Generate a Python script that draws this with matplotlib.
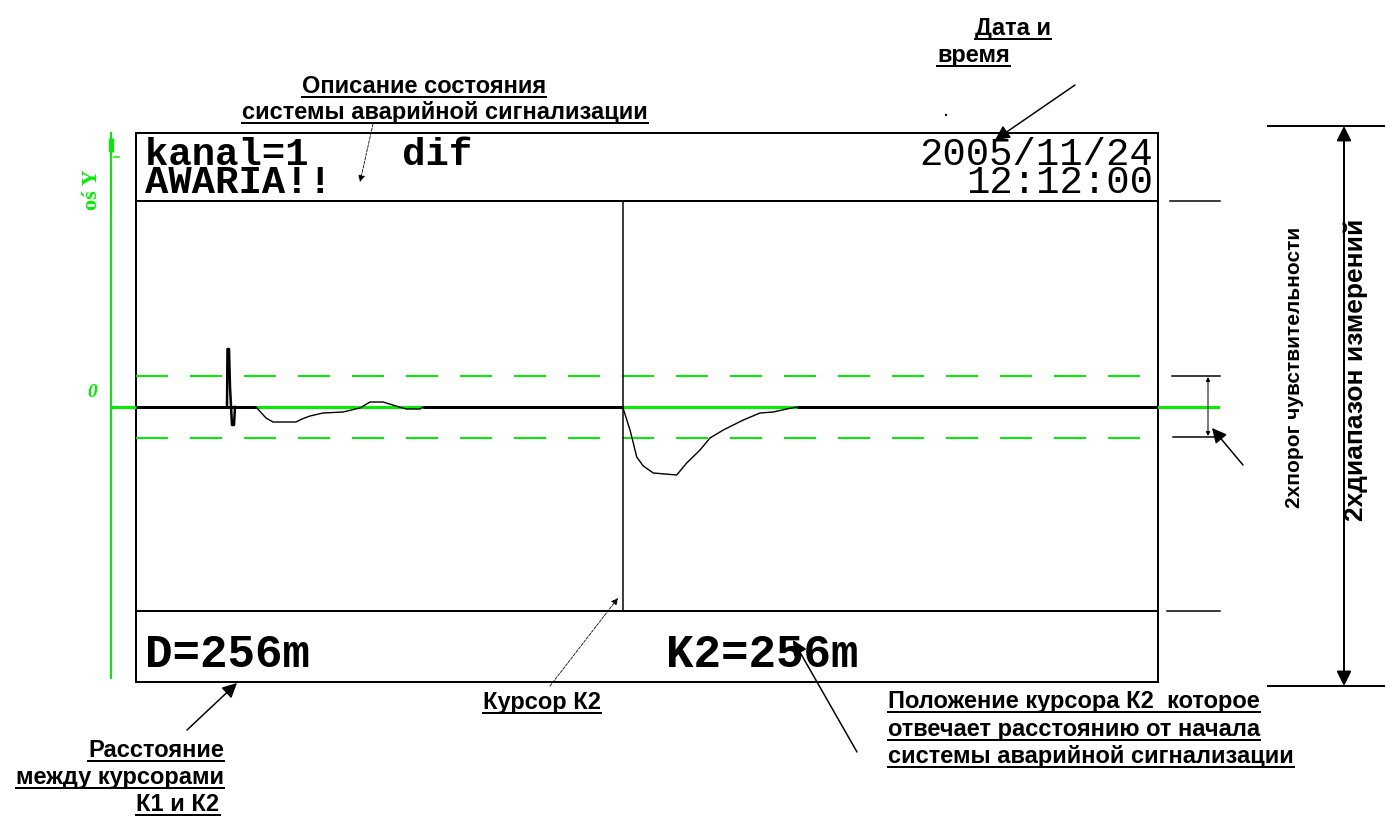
import numpy as np
import matplotlib
matplotlib.use('Agg')
import matplotlib.pyplot as plt
from matplotlib.lines import Line2D
from matplotlib.patches import Rectangle

# ---------------- data (screen units of the reflectometer trace) ----------------
spike_x = [91, 91.5, 93, 94, 96, 98, 99]
spike_y = [0, 58, 58, 20, -18, -18, 0]
dip1_x = [120, 130, 137, 160, 166, 174, 187, 207, 224, 234, 247, 260, 270, 284, 287]
dip1_y = [0, -11, -15, -15, -12, -9, -6, -5, -1, 5, 5, 1, -2, -2, 0]
dip2_x = [486.7, 494, 497.3, 500.7, 507.3, 517.3, 540.7, 550.7, 564, 574, 587.3,
          607.3, 624, 637.3, 650.7, 660.7]
dip2_y = [0, -23, -36, -50, -59, -66, -68, -56, -43, -31, -23, -13, -6, -5, -2, 0]
threshold = 31
cursor_k2 = 486.7
trace_length = 1022
amp_range = (-204, 206)

header_left = ["kanal=1    dif", "AWARIA!!"]
header_right = ["2005/11/24", "12:12:00"]
dist_text = "D=256m"
k2_text = "K2=256m"

W, H = 1385, 823
GREEN = '#00ee00'
fig = plt.figure(figsize=(W / 100, H / 100), dpi=100)
fig.patch.set_facecolor('white')

# overlay axes in pixel coordinates (for frame / annotations)
ov = fig.add_axes([0, 0, 1, 1])
ov.set_xlim(0, W)
ov.set_ylim(H, 0)
ov.axis('off')

px = 0.72  # 1 px in points

# screen frame
ov.add_patch(Rectangle((136, 133), 1158 - 136, 682 - 133, fill=False, ec='black', lw=2 * px))
ov.plot([136, 1158], [201, 201], color='black', lw=2 * px)
ov.plot([136, 1158], [611, 611], color='black', lw=2 * px)

# green Y axis
ov.plot([111, 111], [133, 678], color=GREEN, lw=2 * px)
ov.plot([111, 111], [138, 152], color=GREEN, lw=5 * px, solid_capstyle='butt')
ov.plot([114, 119], [157, 157], color=GREEN, lw=1.5 * px)
ov.text(92, 190, "oś Y", rotation=90, color=GREEN, fontsize=16, fontweight='bold',
        family='Liberation Serif', ha='center', va='center')
ov.text(92, 392, "0", color=GREEN, fontsize=14, fontweight='bold', style='italic',
        family='Liberation Serif', ha='center', va='center')
# green baseline extends beyond the screen
ov.plot([111, 1218], [407, 407], color=GREEN, lw=3 * px, zorder=1)

# trace axes
tr = fig.add_axes([136 / W, (H - 611) / H, (1158 - 136) / W, (611 - 201) / H])
tr.patch.set_alpha(0)
tr.set_xlim(0, trace_length)
tr.set_ylim(*amp_range)
tr.axis('off')
for yv in (threshold, -threshold):
    tr.plot([0, trace_length], [yv, yv], color=GREEN, lw=2 * px,
            dashes=(16, 11), zorder=2)
tr.axvline(cursor_k2, color='black', lw=1.5 * px, zorder=3)
# thick flat baseline where the trace sits at zero
flat = [(0, dip1_x[0]), (dip1_x[-1], dip2_x[0]), (dip2_x[-1], trace_length)]
for a, b in flat:
    tr.plot([a, b], [0, 0], color='black', lw=3 * px, zorder=4, solid_capstyle='butt')
tr.plot(spike_x, spike_y, color='black', lw=2.5 * px, zorder=5)
tr.plot(dip1_x, dip1_y, color='black', lw=1.4 * px, zorder=5)
tr.plot(dip2_x, dip2_y, color='black', lw=1.4 * px, zorder=5)

# screen texts (va='baseline' on multi-line text aligns the last line)
mono = 'Liberation Mono'
ov.text(145, 193, "\n".join(header_left), family=mono, fontsize=28, fontweight='bold',
        ha='left', va='baseline', linespacing=0.72)
ov.text(1153, 193, "\n".join(header_right), family=mono, fontsize=28,
        ha='right', va='baseline', multialignment='right', linespacing=0.72)
ov.text(145, 667, dist_text, family=mono, fontsize=33, fontweight='bold', ha='left', va='baseline')
ov.text(666, 667, k2_text, family=mono, fontsize=33, fontweight='bold', ha='left', va='baseline')
ov.text(946, 116, ".", family=mono, fontsize=12, ha='center', va='baseline')

# right-hand dimension marks
for y0, x0 in ((201, 1170), (376, 1172), (437, 1173), (611, 1167)):
    ov.plot([x0, 1220], [y0, y0], color='black', lw=1.5 * px)
ov.plot([1268, 1385], [126, 126], color='black', lw=2 * px)
ov.plot([1268, 1385], [686, 686], color='black', lw=2 * px)
ov.annotate('', xy=(1344, 126), xytext=(1344, 686),
            arrowprops=dict(arrowstyle='<|-|>', color='black', lw=2 * px, mutation_scale=22,
                            shrinkA=0, shrinkB=0))
ov.annotate('', xy=(1208, 377), xytext=(1208, 436),
            arrowprops=dict(arrowstyle='<|-|>', color='black', lw=1 * px, mutation_scale=6,
                            shrinkA=0, shrinkB=0))
ov.annotate('', xy=(1212, 428), xytext=(1243, 465),
            arrowprops=dict(arrowstyle='-|>', color='black', lw=1.5 * px, mutation_scale=22,
                            shrinkA=0, shrinkB=0))
lab = ['Liberation Sans', 'DejaVu Sans']
ov.text(1295, 367, "2хпорог чувствительности", rotation=90, family=lab, fontweight='bold',
        fontsize=15, ha='center', va='center')
ov.text(1356, 370, "2хдиапазон измерений", rotation=90, family=lab, fontweight='bold',
        fontsize=19, ha='center', va='center')

# other arrows
ov.annotate('', xy=(995, 140), xytext=(1075, 85),
            arrowprops=dict(arrowstyle='-|>', color='black', lw=1.5 * px, mutation_scale=22,
                            shrinkA=0, shrinkB=0))
ov.annotate('', xy=(237, 683), xytext=(187, 730),
            arrowprops=dict(arrowstyle='-|>', color='black', lw=1.5 * px, mutation_scale=22,
                            shrinkA=0, shrinkB=0))
ov.annotate('', xy=(793, 640), xytext=(857, 752),
            arrowprops=dict(arrowstyle='-|>', color='black', lw=1.5 * px, mutation_scale=22,
                            shrinkA=0, shrinkB=0))
ov.annotate('', xy=(618, 598), xytext=(550, 686),
            arrowprops=dict(arrowstyle='-|>', color='black', lw=0.8 * px, ls='--',
                            mutation_scale=10, shrinkA=0, shrinkB=0))
ov.annotate('', xy=(360, 182), xytext=(373, 124),
            arrowprops=dict(arrowstyle='-|>', color='black', lw=0.8 * px, ls='--',
                            mutation_scale=10, shrinkA=0, shrinkB=0))

# underlined callout labels
callouts = [
    (424, 93, "Описание состояния", 'center'),
    (445, 119, "системы аварийной сигнализации", 'center'),
    (975, 35, "Дата и", 'left'),
    (937, 62, "время", 'left'),
    (483, 709, "Курсор К2", 'left'),
    (224, 757, "Расстояние", 'right'),
    (224, 784, "между курсорами", 'right'),
    (178, 811, "К1 и К2", 'center'),
    (888, 708, "Положение курсора К2  которое", 'left'),
    (888, 736, "отвечает расстоянию от начала", 'left'),
    (888, 763, "системы аварийной сигнализации", 'left'),
]
texts = []
for x, y, s, ha in callouts:
    texts.append(ov.text(x, y, s, family=lab, fontweight='bold', fontsize=17,
                         ha=ha, va='baseline'))
fig.canvas.draw()
r = fig.canvas.get_renderer()
for t in texts:
    bb = t.get_window_extent(r)
    x0, x1 = bb.x0 / W, bb.x1 / W
    xb, yb = ov.transData.transform((0, t.get_position()[1]))
    yl = (yb - 4) / H
    fig.add_artist(Line2D([x0, x1], [yl, yl], color='black', lw=2 * px))

fig.savefig('out.png', dpi=100)
